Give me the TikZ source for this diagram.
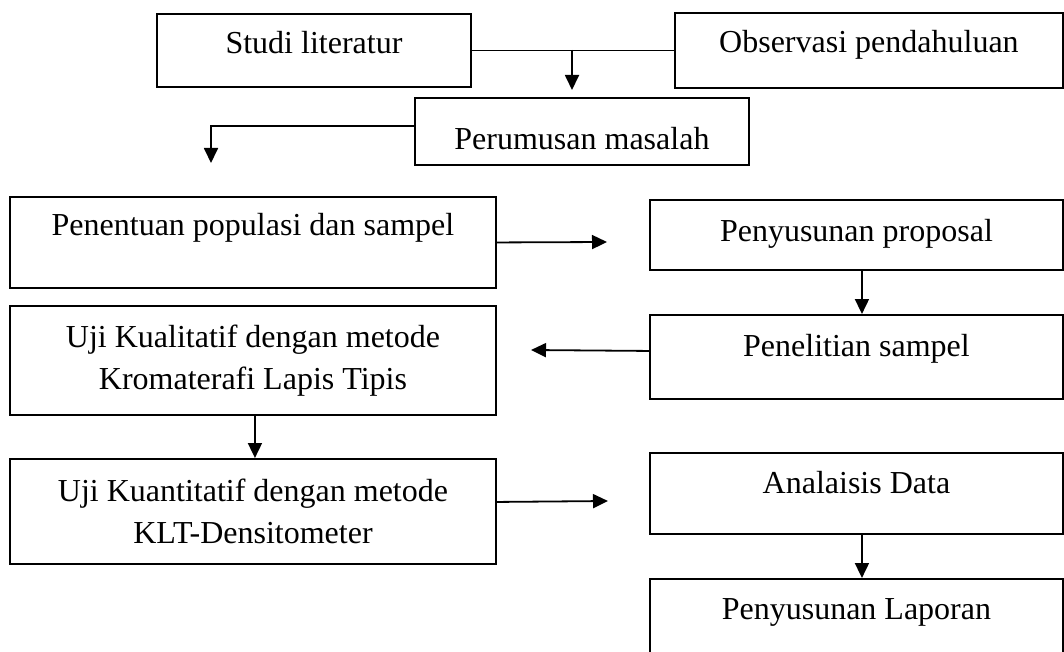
\documentclass[tikz,border=0pt]{standalone}
\usepackage{fontspec}
\setmainfont{Liberation Serif}
\usetikzlibrary{arrows.meta}
\begin{document}
\begin{tikzpicture}[x=1pt,y=-1pt,
  box/.style={draw=black, line width=1.9pt, rectangle, inner sep=0pt, anchor=north west,
    font=\fontsize{32}{42}\selectfont, align=center},
  arr/.style={line width=1.8pt, -{Triangle[length=15pt,width=14pt]}},
  ln/.style={line width=1.8pt}]
\path[use as bounding box] (0,0) rectangle (1064,652);
\clip (0,0) rectangle (1064,652);

% boxes
\node[box, minimum width=314pt, minimum height=73pt, text height=40pt, text depth=33pt] (studi) at (156,13) {Studi literatur};
\node[box, minimum width=388pt, minimum height=75pt, text height=40pt, text depth=35pt] (obs) at (674,12) {Observasi pendahuluan};
\node[box, minimum width=334pt, minimum height=67pt, text height=52pt, text depth=15pt] (perum) at (414,97) {Perumusan masalah};
\node[box, minimum width=486pt, minimum height=91pt, text height=39pt, text depth=52pt] (pen) at (9,196) {Penentuan populasi dan sampel};
\node[box, minimum width=413pt, minimum height=70pt, text height=42pt, text depth=28pt] (prop) at (649,199) {Penyusunan proposal};
\node[box, minimum width=413pt, minimum height=84pt, text height=42pt, text depth=42pt] (teliti) at (649,314) {Penelitian sampel};
\node[box, minimum width=486pt, minimum height=109pt] (kual) at (9,305) {Uji Kualitatif dengan metode\\Kromaterafi Lapis Tipis};
\node[box, minimum width=486pt, minimum height=105pt] (kuan) at (9,458) {Uji Kuantitatif dengan metode\\KLT-Densitometer};
\node[box, minimum width=413pt, minimum height=81pt, text height=41pt, text depth=40pt] (anal) at (649,452) {Analaisis Data};
\node[box, minimum width=413pt, minimum height=90pt, text height=41pt, text depth=49pt] (lap) at (649,578) {Penyusunan Laporan};

% connector coordinates
\coordinate (j1) at (572,50);
\coordinate (t1) at (572,90);
\coordinate (t2) at (211,163);
\coordinate (t3) at (607,242);
\coordinate (t4) at (531,350);
\coordinate (t5) at (608,501);

% connectors
\draw[ln] (studi.east) -- (obs.west);
\draw[arr] (j1) -- (t1);
\draw[arr] ([yshift=5.5pt]perum.west) -| (t2);
\draw[arr] (pen.east) -- (t3);
\draw[arr] ([xshift=5.5pt]prop.south) -- ([xshift=5.5pt]teliti.north);
\draw[arr] ([yshift=6pt]teliti.west) -- (t4);
\draw[arr] ([xshift=2pt]kual.south) -- ([xshift=2pt]kuan.north);
\draw[arr] ([yshift=9.5pt]kuan.east) -- (t5);
\draw[arr] ([xshift=5.5pt]anal.south) -- ([xshift=5.5pt]lap.north);
\end{tikzpicture}
\end{document}
